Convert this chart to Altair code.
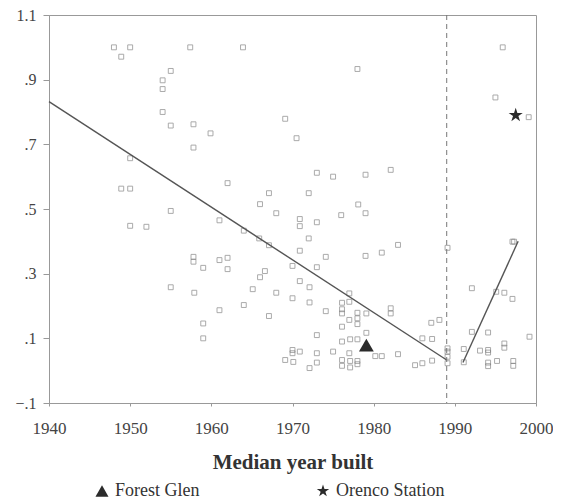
import altair as alt
import pandas as pd

# ---- data ----
years = [1948.0, 1950.0, 1948.9, 1957.4, 1955.0, 1954.0, 1954.0, 1954.0, 1955.0, 1957.8,
         1959.9, 1957.8, 1950.0, 1948.9, 1950.0, 1962.0,
         1963.9, 1978.0, 1969.1, 1970.5, 1973.0, 1975.0, 1979.0, 1982.1, 1967.1, 1972.0,
         1995.9, 1995.0, 1999.1,
         1955.0, 1961.0, 1950.0, 1952.0, 1957.8, 1957.8, 1959.0, 1961.0, 1962.0, 1962.0,
         1955.0, 1957.9, 1961.0, 1959.0, 1959.0,
         1966.0, 1968.0, 1970.9, 1970.9, 1973.0, 1978.1, 1979.0, 1976.0, 1964.0, 1965.9,
         1967.1, 1972.0, 1970.9, 1974.1, 1966.6, 1966.0, 1970.0, 1973.0, 1979.0, 1981.0,
         1983.0, 1965.1, 1968.0, 1970.9, 1972.1, 1970.0, 1972.1, 1964.0, 1967.1, 1974.1,
         1976.1, 1977.0, 1977.0, 1976.1, 1976.1, 1978.0, 1978.0, 1979.1, 1977.0, 1978.0,
         1976.1, 1982.1, 1982.1, 1973.0, 1979.1, 1976.1, 1977.1, 1978.0, 1980.2, 1981.0,
         1983.0, 1970.0, 1970.0, 1970.9, 1973.0, 1975.0, 1977.0, 1969.1, 1970.1, 1973.0,
         1972.1, 1976.1, 1976.1, 1977.1, 1977.1, 1978.0, 1978.0,
         1989.1, 1987.1, 1988.1, 1986.0, 1987.2, 1985.1, 1986.0, 1987.2, 1989.1, 1989.1,
         1989.1, 1989.1, 1992.1, 1995.1, 1996.1, 1997.1, 1997.1, 1997.3, 1992.1, 1994.1,
         1991.1, 1991.1, 1993.1, 1994.1, 1994.1, 1996.1, 1996.1, 1995.2, 1994.1, 1994.1,
         1997.2, 1997.2, 1999.2]
values = [1.00, 1.00, 0.971, 1.00, 0.927, 0.898, 0.871, 0.80, 0.758, 0.762,
          0.734, 0.69, 0.657, 0.563, 0.563, 0.58,
          1.00, 0.933, 0.779, 0.719, 0.612, 0.60, 0.606, 0.621, 0.549, 0.549,
          1.00, 0.845, 0.784,
          0.494, 0.465, 0.448, 0.445, 0.352, 0.337, 0.318, 0.342, 0.349, 0.314,
          0.258, 0.241, 0.187, 0.146, 0.10,
          0.515, 0.487, 0.469, 0.447, 0.459, 0.514, 0.487, 0.481, 0.433, 0.409,
          0.388, 0.409, 0.371, 0.352, 0.308, 0.289, 0.324, 0.320, 0.355, 0.365,
          0.389, 0.252, 0.241, 0.277, 0.258, 0.224, 0.211, 0.203, 0.169, 0.184,
          0.21, 0.239, 0.213, 0.19, 0.177, 0.179, 0.162, 0.177, 0.157, 0.144,
          0.136, 0.193, 0.177, 0.11, 0.117, 0.09, 0.097, 0.097, 0.045, 0.045,
          0.051, 0.064, 0.054, 0.059, 0.054, 0.059, 0.054, 0.033, 0.027, 0.025,
          0.008, 0.033, 0.015, 0.03, 0.01, 0.03, 0.02,
          0.38, 0.148, 0.157, 0.10, 0.098, 0.017, 0.023, 0.031, 0.069, 0.059,
          0.043, 0.023, 0.255, 0.244, 0.241, 0.222, 0.399, 0.399, 0.12, 0.118,
          0.067, 0.026, 0.062, 0.064, 0.056, 0.084, 0.071, 0.03, 0.025, 0.014,
          0.03, 0.015, 0.105]

site_names = ["Forest Glen", "Orenco Station"]
site_years = [1979.1, 1997.5]
site_values = [0.079, 0.79]

fit1_years = [1940, 1989]
fit1_values = [0.832, 0.033]
fit2_years = [1991, 1997.8]
fit2_values = [0.025, 0.40]

cutoff_year = [1989]

x_ticks = [1940, 1950, 1960, 1970, 1980, 1990, 2000]
y_ticks = [-0.1, 0.1, 0.3, 0.5, 0.7, 0.9, 1.1]
y_tick_labels = ["\u2212.1", ".1", ".3", ".5", ".7", ".9", "1.1"]

STAR = ("M0,-1L0.2245,-0.309L0.951,-0.309L0.363,0.118L0.588,0.809L0,0.382"
        "L-0.588,0.809L-0.363,0.118L-0.951,-0.309L-0.2245,-0.309Z")

FONT = "Liberation Serif"
GRAY = "#999999"

# ---- tables ----
pts = pd.DataFrame({"year": years, "value": values})
sites = pd.DataFrame({"site": site_names, "year": site_years, "value": site_values})
fits = pd.DataFrame({
    "year": fit1_years + fit2_years,
    "value": fit1_values + fit2_values,
    "seg": ["a", "a", "b", "b"],
})
cut = pd.DataFrame({"year": cutoff_year})

label_expr = " : ".join(
    f"datum.value < {v + 0.05:.2f} ? '{l}'" for v, l in zip(y_ticks[:-1], y_tick_labels[:-1])
) + f" : '{y_tick_labels[-1]}'"

x_scale = alt.Scale(domain=[1940, 2000], nice=False, zero=False)
y_scale = alt.Scale(domain=[-0.1, 1.1], nice=False, zero=False)

x_enc = alt.X("year:Q", scale=x_scale, title="Median year built",
              axis=alt.Axis(values=x_ticks, format="d", grid=False, tickSize=3,
                            labelFlush=False, labelPadding=14, labelFontSize=17,
                            titleFontSize=21, titleFontWeight="bold", titlePadding=15))
y_enc = alt.Y("value:Q", scale=y_scale, title=None,
              axis=alt.Axis(values=y_ticks, labelExpr=label_expr, grid=False,
                            labelFlush=False, tickSize=6, labelPadding=7,
                            labelFontSize=16))

points = alt.Chart(pts).mark_point(
    shape="square", filled=False, size=24, color="#7a7a7a", strokeWidth=0.9
).encode(x=x_enc, y=y_enc)

lines = alt.Chart(fits).mark_line(color="#555555", strokeWidth=1.4).encode(
    x="year:Q", y="value:Q", detail="seg:N"
)

rule = alt.Chart(cut).mark_rule(color="#777777", strokeDash=[5, 4], strokeWidth=1).encode(
    x="year:Q"
)

markers = alt.Chart(sites).mark_point(filled=True, color="#2b2b2b", size=220, opacity=1).encode(
    x="year:Q", y="value:Q",
    shape=alt.Shape("site:N",
                    scale=alt.Scale(domain=site_names, range=["triangle-up", STAR]),
                    legend=alt.Legend(title=None, orient="none", legendX=44, legendY=467,
                                      direction="horizontal", columnPadding=113,
                                      symbolSize=170, symbolFillColor="#2b2b2b",
                                      symbolStrokeColor="#2b2b2b",
                                      labelFontSize=18, labelFont=FONT,
                                      labelColor="#333333", symbolOffset=0)),
)

chart = alt.layer(points, lines, rule, markers).properties(
    width=487, height=388,
    autosize=alt.AutoSizeParams(type="none"),
    padding={"left": 41, "top": 7, "right": 17, "bottom": 100},
).configure_view(stroke=GRAY, strokeWidth=1).configure_axis(
    domainColor=GRAY, tickColor=GRAY, labelFont=FONT, titleFont=FONT,
    labelColor="#444444", titleColor="#333333"
)

chart.save("out.html", embed_options={"renderer": "svg", "actions": False})
